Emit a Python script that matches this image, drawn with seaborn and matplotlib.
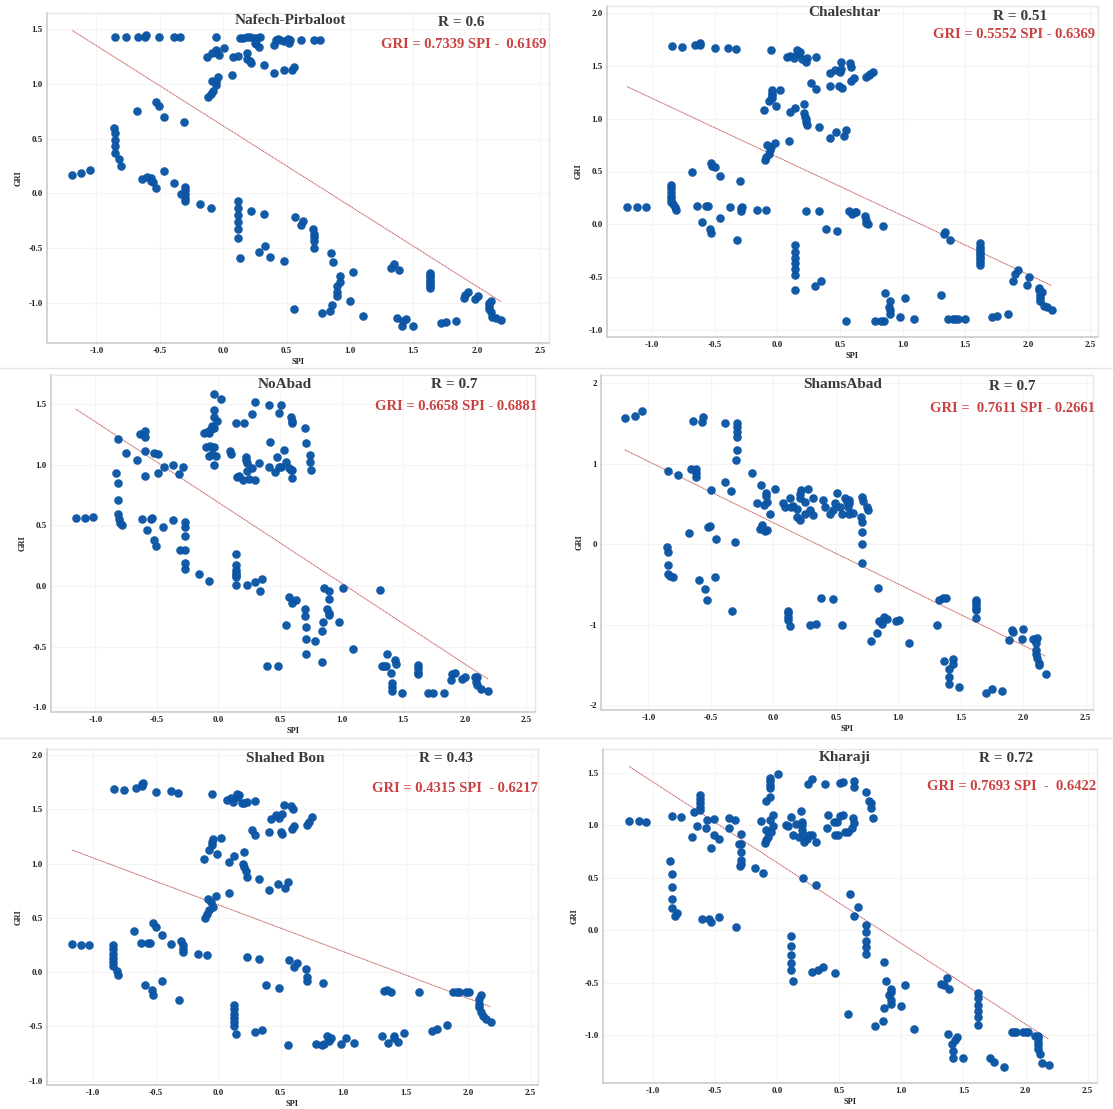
import numpy as np
import pandas as pd
import matplotlib
matplotlib.use("Agg")
import matplotlib.pyplot as plt
from matplotlib.lines import Line2D
from matplotlib.ticker import FormatStrFormatter
import seaborn as sns

# ---------------------------------------------------------------- data
stations = ["Nafech-Pirbaloot", "Chaleshtar", "NoAbad", "ShamsAbad", "Shahed Bon", "Kharaji"]
r_values = ["0.6", "0.51", "0.7", "0.7", "0.43", "0.72"]
slopes = [0.7339, 0.5552, 0.6658, 0.7611, 0.4315, 0.7693]
intercepts = [0.6169, 0.6369, 0.6881, 0.2661, 0.6217, 0.6422]
equations = [
    "GRI = 0.7339 SPI -  0.6169",
    "GRI = 0.5552 SPI - 0.6369",
    "GRI = 0.6658 SPI - 0.6881",
    "GRI =  0.7611 SPI - 0.2661",
    "GRI = 0.4315 SPI  - 0.6217",
    "GRI = 0.7693 SPI  -  0.6422",
]

# (SPI, GRI) pairs per station
nafech_pts = [
    (-0.85, 1.43), (-0.77, 1.43), (-0.67, 1.43), (-0.62, 1.43), (-0.61, 1.45), (-0.51, 1.43), (-0.39, 1.43),
    (-0.34, 1.43), (-0.06, 1.43),
    (-0.13, 1.25), (-0.09, 1.28), (-0.06, 1.31), (-0.05, 1.28), (-0.03, 1.27), (0.01, 1.33),
    (-0.04, 1.06), (-0.06, 1.02), (-0.09, 1.03), (-0.06, 0.99), (-0.08, 0.94), (-0.10, 0.91), (-0.12, 0.88),
    (0.07, 1.08), (0.08, 1.25), (0.12, 1.26),
    (0.13, 1.42), (0.16, 1.42), (0.19, 1.43), (0.21, 1.43), (0.24, 1.42), (0.27, 1.42), (0.29, 1.43),
    (0.25, 1.38), (0.26, 1.37), (0.28, 1.34),
    (0.19, 1.28), (0.19, 1.23), (0.21, 1.21), (0.22, 1.19),
    (0.32, 1.17), (0.40, 1.10), (0.48, 1.13), (0.54, 1.13), (0.56, 1.16),
    (0.40, 1.36), (0.42, 1.40), (0.43, 1.41), (0.45, 1.40), (0.48, 1.39), (0.51, 1.41), (0.52, 1.38),
    (0.53, 1.40), (0.61, 1.40), (0.72, 1.40), (0.76, 1.40),
    (-0.68, 0.75), (-0.53, 0.84), (-0.51, 0.80), (-0.47, 0.70), (-0.31, 0.65),
    (-0.86, 0.60), (-0.85, 0.55), (-0.85, 0.49), (-0.85, 0.43), (-0.85, 0.37), (-0.82, 0.31), (-0.81, 0.25),
    (-1.19, 0.17), (-1.12, 0.19), (-1.05, 0.21),
    (-0.64, 0.13), (-0.60, 0.15), (-0.57, 0.14), (-0.57, 0.11), (-0.55, 0.10), (-0.53, 0.05), (-0.47, 0.20),
    (-0.39, 0.09),
    (-0.33, -0.01), (-0.30, 0.06), (-0.30, 0.03), (-0.30, -0.01), (-0.30, -0.04), (-0.30, -0.07),
    (-0.18, -0.10), (-0.10, -0.13),
    (0.12, -0.07), (0.12, -0.13), (0.12, -0.20), (0.12, -0.26), (0.12, -0.33), (0.12, -0.41), (0.13, -0.59),
    (0.22, -0.16), (0.32, -0.19),
    (0.33, -0.48), (0.28, -0.54), (0.37, -0.58), (0.48, -0.62),
    (0.57, -0.22), (0.63, -0.25), (0.61, -0.29),
    (0.71, -0.33), (0.72, -0.37), (0.72, -0.40), (0.72, -0.44), (0.72, -0.50),
    (0.85, -0.55), (0.87, -0.63),
    (0.92, -0.76), (0.92, -0.81), (0.90, -0.85), (0.90, -0.90), (0.90, -0.94),
    (1.02, -0.72), (1.00, -0.99), (0.86, -1.02), (0.84, -1.08), (0.78, -1.10), (0.56, -1.06), (1.10, -1.12),
    (1.32, -0.68), (1.35, -0.65), (1.39, -0.70),
    (1.37, -1.14), (1.42, -1.17), (1.44, -1.15), (1.41, -1.21), (1.50, -1.21),
    (1.63, -0.73), (1.63, -0.75), (1.63, -0.77), (1.63, -0.79), (1.63, -0.81), (1.63, -0.83), (1.63, -0.85),
    (1.63, -0.87),
    (1.72, -1.19), (1.76, -1.18), (1.84, -1.17),
    (1.90, -0.96), (1.93, -0.90), (1.91, -0.93), (1.99, -0.97), (2.01, -0.94),
    (2.10, -1.00), (2.11, -0.99), (2.10, -1.03), (2.10, -1.06), (2.11, -1.09), (2.12, -1.13), (2.15, -1.14),
    (2.19, -1.16),
]

chaleshtar_pts = [
    (-0.84, 1.69), (-0.76, 1.68), (-0.66, 1.70), (-0.62, 1.72), (-0.62, 1.70), (-0.50, 1.67), (-0.39, 1.67),
    (-0.33, 1.66), (-0.05, 1.65),
    (0.08, 1.58), (0.10, 1.59), (0.13, 1.57), (0.16, 1.61), (0.16, 1.645), (0.18, 1.63), (0.20, 1.56),
    (0.23, 1.54), (0.24, 1.57), (0.31, 1.58),
    (0.27, 1.34), (0.31, 1.28), (0.42, 1.31),
    (0.42, 1.43), (0.46, 1.46), (0.50, 1.44), (0.51, 1.47), (0.49, 1.31), (0.52, 1.29), (0.51, 1.535),
    (0.58, 1.525), (0.59, 1.49), (0.59, 1.36), (0.61, 1.38), (0.71, 1.39), (0.73, 1.41), (0.74, 1.42),
    (0.76, 1.44),
    (-0.11, 1.08), (-0.07, 1.17), (-0.05, 1.19), (-0.04, 1.27), (-0.04, 1.245), (-0.04, 1.22), (-0.04, 1.20),
    (-0.01, 1.12), (0.02, 1.27),
    (0.10, 1.06), (0.14, 1.10), (0.21, 1.14), (0.21, 1.05), (0.22, 1.02), (0.23, 1.00), (0.23, 0.97),
    (0.24, 0.94), (0.33, 0.92), (0.42, 0.82), (0.47, 0.87), (0.53, 0.84), (0.55, 0.89),
    (-0.08, 0.75), (-0.10, 0.61), (-0.09, 0.64), (-0.07, 0.67), (-0.06, 0.70), (-0.05, 0.73), (-0.02, 0.77),
    (0.09, 0.79),
    (-0.68, 0.50), (-0.53, 0.58), (-0.52, 0.55), (-0.50, 0.54), (-0.46, 0.46), (-0.30, 0.41),
    (-0.85, 0.37), (-0.85, 0.34), (-0.85, 0.31), (-0.85, 0.27), (-0.85, 0.24), (-0.85, 0.21), (-0.83, 0.19),
    (-0.82, 0.16), (-0.81, 0.14),
    (-1.20, 0.16), (-1.12, 0.16), (-1.05, 0.16),
    (-0.64, 0.17), (-0.57, 0.17), (-0.55, 0.17), (-0.38, 0.16), (-0.29, 0.15), (-0.28, 0.16), (-0.29, 0.13),
    (-0.16, 0.14), (-0.09, 0.14), (0.23, 0.13), (0.33, 0.13),
    (-0.60, 0.02), (-0.54, -0.04), (-0.53, -0.08), (-0.46, 0.06), (-0.32, -0.15),
    (0.39, -0.04), (0.48, -0.06),
    (0.14, -0.20), (0.14, -0.26), (0.14, -0.32), (0.14, -0.37), (0.14, -0.42), (0.14, -0.48), (0.14, -0.62),
    (0.30, -0.58), (0.35, -0.54),
    (0.57, 0.13), (0.60, 0.10), (0.62, 0.12), (0.63, 0.12), (0.70, 0.08), (0.71, 0.04), (0.71, 0.01),
    (0.72, 0.00), (0.84, -0.02),
    (1.33, -0.09), (1.34, -0.07), (1.38, -0.15),
    (1.62, -0.18), (1.62, -0.21), (1.62, -0.23), (1.62, -0.26), (1.62, -0.28), (1.62, -0.31), (1.62, -0.33),
    (1.62, -0.36), (1.62, -0.38),
    (1.92, -0.43), (1.90, -0.47), (1.88, -0.54), (2.01, -0.50), (1.99, -0.57),
    (2.09, -0.60), (2.09, -0.62), (2.11, -0.64), (2.10, -0.67), (2.10, -0.70), (2.10, -0.73), (2.13, -0.77),
    (2.15, -0.78), (2.19, -0.81),
    (0.86, -0.65), (0.90, -0.73), (0.89, -0.78), (0.90, -0.81), (0.90, -0.85), (0.78, -0.91), (0.83, -0.91),
    (0.85, -0.91), (0.98, -0.88), (1.02, -0.70), (1.09, -0.90),
    (0.55, -0.91),
    (1.31, -0.67), (1.36, -0.90), (1.40, -0.90), (1.42, -0.90), (1.44, -0.90), (1.50, -0.90),
    (1.71, -0.88), (1.75, -0.87), (1.84, -0.85),
]

noabad_pts = [
    (-1.16, 0.56), (-1.08, 0.56), (-1.02, 0.57),
    (-0.83, 0.93), (-0.82, 0.85), (-0.82, 0.71), (-0.82, 0.59), (-0.81, 0.55), (-0.80, 0.52), (-0.78, 0.50),
    (-0.82, 1.21), (-0.75, 1.10), (-0.66, 1.04), (-0.64, 1.25), (-0.60, 1.28), (-0.60, 1.23), (-0.60, 1.11),
    (-0.60, 0.91), (-0.52, 1.10), (-0.49, 1.09), (-0.49, 0.93), (-0.44, 0.98), (-0.37, 1.00), (-0.32, 0.92),
    (-0.29, 0.98),
    (-0.62, 0.55), (-0.58, 0.46), (-0.55, 0.55), (-0.54, 0.56), (-0.52, 0.38), (-0.51, 0.33), (-0.45, 0.49),
    (-0.37, 0.54), (-0.31, 0.30),
    (-0.27, 0.53), (-0.27, 0.49), (-0.27, 0.41), (-0.27, 0.30), (-0.27, 0.19), (-0.27, 0.14),
    (-0.16, 0.10), (-0.08, 0.04),
    (-0.04, 1.585), (0.02, 1.54), (-0.04, 1.45), (-0.04, 1.39), (-0.01, 1.36), (-0.05, 1.32), (-0.07, 1.29),
    (-0.09, 1.27), (-0.12, 1.26), (-0.08, 1.26), (-0.04, 1.30),
    (-0.10, 1.15), (-0.07, 1.155), (-0.04, 1.15), (-0.08, 1.07), (-0.05, 1.09), (-0.02, 1.075), (-0.04, 1.00),
    (0.09, 1.11), (0.10, 1.09), (0.14, 1.34), (0.21, 1.34), (0.15, 0.90), (0.17, 0.91), (0.195, 0.87),
    (0.22, 1.04), (0.23, 1.01), (0.22, 1.06), (0.23, 0.95), (0.25, 0.88), (0.27, 0.97), (0.27, 1.42),
    (0.30, 0.87), (0.30, 1.52), (0.33, 1.01), (0.41, 1.49), (0.415, 1.185), (0.41, 0.98),
    (0.51, 1.49), (0.495, 1.43), (0.59, 1.39), (0.60, 1.36), (0.60, 1.34), (0.705, 1.30), (0.71, 1.18),
    (0.74, 1.08), (0.74, 1.02), (0.75, 0.96),
    (0.53, 1.12), (0.475, 1.06), (0.455, 0.94), (0.495, 0.98), (0.51, 0.98), (0.55, 1.025), (0.575, 0.97),
    (0.585, 0.96), (0.60, 0.96), (0.60, 0.89),
    (0.14, 0.26), (0.14, 0.17), (0.14, 0.13), (0.14, 0.11), (0.14, 0.09), (0.14, 0.07), (0.14, 0.01),
    (0.23, 0.01), (0.30, 0.03), (0.35, 0.06), (0.335, -0.04),
    (0.39, -0.66), (0.48, -0.66),
    (0.57, -0.09), (0.55, -0.325), (0.595, -0.14), (0.63, -0.12), (0.70, -0.19), (0.70, -0.25), (0.71, -0.34),
    (0.71, -0.44), (0.71, -0.56), (0.78, -0.455), (0.84, -0.37), (0.85, -0.30), (0.86, -0.02), (0.90, -0.04),
    (0.90, -0.11), (0.885, -0.19), (0.895, -0.22), (0.90, -0.24), (0.84, -0.63), (0.98, -0.30), (1.01, -0.02),
    (1.09, -0.52),
    (1.31, -0.03), (1.37, -0.565), (1.36, -0.66), (1.34, -0.66), (1.33, -0.66), (1.40, -0.72), (1.41, -0.80),
    (1.41, -0.835), (1.41, -0.87), (1.43, -0.61), (1.44, -0.64), (1.49, -0.88),
    (1.62, -0.65), (1.62, -0.68), (1.62, -0.71), (1.62, -0.73),
    (1.70, -0.885), (1.74, -0.885), (1.83, -0.885),
    (1.89, -0.775), (1.90, -0.73), (1.92, -0.72), (1.98, -0.77), (2.00, -0.75),
    (2.08, -0.75), (2.10, -0.75), (2.09, -0.79), (2.10, -0.82), (2.13, -0.85), (2.19, -0.87),
]

shamsabad_pts = [
    (-1.19, 1.57), (-1.11, 1.59), (-1.05, 1.655),
    (-0.64, 1.53), (-0.57, 1.52), (-0.56, 1.58), (-0.39, 1.51), (-0.29, 1.51), (-0.29, 1.46), (-0.29, 1.39),
    (-0.29, 1.33), (-0.29, 1.17), (-0.30, 1.04),
    (-0.84, 0.91), (-0.76, 0.86), (-0.66, 0.93), (-0.62, 0.93), (-0.62, 0.88), (-0.62, 0.83), (-0.50, 0.67),
    (-0.39, 0.77), (-0.34, 0.66),
    (-0.17, 0.88), (-0.10, 0.73), (-0.06, 0.64), (-0.06, 0.60), (-0.05, 0.525), (-0.075, 0.48), (-0.03, 0.37),
    (0.01, 0.69),
    (-0.13, 0.51), (-0.09, 0.24), (-0.11, 0.19), (-0.07, 0.16), (-0.05, 0.18),
    (0.075, 0.51), (0.09, 0.46), (0.13, 0.57), (0.14, 0.46), (0.16, 0.47), (0.19, 0.43), (0.19, 0.34),
    (0.21, 0.30), (0.21, 0.62), (0.21, 0.57), (0.22, 0.67), (0.25, 0.525), (0.25, 0.38), (0.28, 0.69),
    (0.29, 0.42), (0.32, 0.36), (0.32, 0.57), (0.40, 0.55), (0.415, 0.455),
    (0.45, 0.38), (0.48, 0.42), (0.51, 0.64), (0.49, 0.51), (0.53, 0.455), (0.55, 0.37), (0.57, 0.57),
    (0.59, 0.525), (0.61, 0.55), (0.61, 0.505), (0.60, 0.46), (0.61, 0.38), (0.64, 0.39), (0.71, 0.58),
    (0.72, 0.54), (0.75, 0.46), (0.76, 0.42), (0.70, 0.34), (0.71, 0.28), (0.71, 0.15), (0.71, 0.00),
    (0.71, -0.23),
    (-0.85, -0.03), (-0.84, -0.10), (-0.84, -0.26), (-0.84, -0.37), (-0.83, -0.40), (-0.80, -0.405),
    (-0.675, 0.14), (-0.52, 0.215), (-0.51, 0.23), (-0.46, 0.06), (-0.305, 0.03), (-0.595, -0.45),
    (-0.545, -0.56), (-0.53, -0.70), (-0.47, -0.405), (-0.33, -0.83),
    (0.12, -0.83), (0.12, -0.86), (0.12, -0.90), (0.12, -0.94), (0.13, -1.02), (0.29, -1.01), (0.34, -0.99),
    (0.38, -0.67),
    (0.48, -0.68), (0.55, -1.01),
    (0.84, -0.55), (0.85, -0.95), (0.87, -0.99), (0.89, -0.90), (0.91, -0.935), (0.78, -1.20), (0.83, -1.10),
    (0.98, -0.95), (1.01, -0.94), (1.09, -1.23), (1.31, -1.005),
    (1.33, -0.69), (1.36, -0.67), (1.38, -0.67),
    (1.62, -0.69), (1.62, -0.72), (1.62, -0.76), (1.62, -0.79), (1.62, -0.82), (1.62, -0.92),
    (1.37, -1.45), (1.44, -1.43), (1.44, -1.49), (1.41, -1.555), (1.41, -1.65), (1.41, -1.74), (1.49, -1.78),
    (1.705, -1.845), (1.75, -1.80), (1.83, -1.82),
    (1.89, -1.19), (1.91, -1.07), (1.92, -1.09), (1.99, -1.18), (2.00, -1.05),
    (2.08, -1.18), (2.11, -1.17), (2.10, -1.23), (2.10, -1.31), (2.10, -1.36), (2.11, -1.41), (2.125, -1.48),
    (2.13, -1.50), (2.18, -1.61),
]

shahedbon_pts = [
    (-0.83, 1.69), (-0.75, 1.68), (-0.66, 1.70), (-0.61, 1.73), (-0.60, 1.745), (-0.61, 1.715), (-0.50, 1.66),
    (-0.38, 1.67), (-0.32, 1.655), (-0.05, 1.645),
    (0.07, 1.59), (0.10, 1.605), (0.12, 1.57), (0.15, 1.615), (0.15, 1.645), (0.17, 1.63), (0.19, 1.56),
    (0.21, 1.555), (0.23, 1.57), (0.295, 1.58),
    (0.27, 1.31), (0.295, 1.26), (0.41, 1.29), (0.42, 1.41),
    (0.53, 1.54), (0.58, 1.53), (0.60, 1.50), (0.46, 1.45), (0.51, 1.46), (0.49, 1.42), (0.50, 1.29),
    (0.51, 1.27), (0.59, 1.32), (0.61, 1.35), (0.71, 1.36), (0.73, 1.385), (0.75, 1.43),
    (-0.115, 1.04), (-0.07, 1.13), (-0.05, 1.17), (-0.05, 1.20), (-0.04, 1.23), (-0.01, 1.09), (0.02, 1.24),
    (0.09, 1.015), (0.13, 1.07), (0.21, 1.11), (0.20, 1.00), (0.21, 0.97), (0.22, 0.93), (0.23, 0.88),
    (0.33, 0.855), (0.41, 0.76),
    (0.48, 0.81), (0.535, 0.775), (0.555, 0.83),
    (-0.107, 0.50), (-0.088, 0.54), (-0.072, 0.57), (-0.08, 0.67), (-0.054, 0.645), (-0.04, 0.60),
    (-0.019, 0.70), (0.086, 0.73),
    (-0.67, 0.38), (-0.52, 0.455), (-0.50, 0.415), (-0.45, 0.34), (-0.375, 0.26), (-0.62, 0.27),
    (-0.56, 0.265), (-0.545, 0.265), (-0.295, 0.29), (-0.285, 0.25), (-0.285, 0.215), (-0.285, 0.185),
    (-0.16, 0.17), (-0.09, 0.16),
    (-1.17, 0.26), (-1.10, 0.255), (-1.03, 0.255),
    (-0.84, 0.25), (-0.84, 0.21), (-0.84, 0.17), (-0.84, 0.13), (-0.84, 0.09), (-0.84, 0.06), (-0.81, 0.015),
    (-0.80, -0.025),
    (-0.585, -0.12), (-0.53, -0.16), (-0.52, -0.21), (-0.45, -0.08), (-0.315, -0.26),
    (0.23, 0.14), (0.33, 0.12), (0.38, -0.12),
    (0.13, -0.30), (0.13, -0.34), (0.13, -0.385), (0.13, -0.425), (0.13, -0.46), (0.13, -0.50), (0.14, -0.57),
    (0.295, -0.555), (0.35, -0.53),
    (0.57, 0.11), (0.61, 0.05), (0.635, 0.08), (0.70, 0.025), (0.715, -0.04), (0.715, -0.08), (0.84, -0.10),
    (0.49, -0.15),
    (1.33, -0.17), (1.35, -0.165), (1.38, -0.18), (1.61, -0.18), (1.88, -0.18), (1.91, -0.18), (1.93, -0.18),
    (1.985, -0.18), (2.01, -0.18),
    (2.10, -0.215), (2.085, -0.25), (2.09, -0.29), (2.09, -0.32), (2.10, -0.37), (2.12, -0.40), (2.145, -0.43),
    (2.18, -0.46),
    (0.555, -0.67), (0.78, -0.66), (0.83, -0.67), (0.85, -0.66), (0.87, -0.585), (0.89, -0.63), (0.90, -0.61),
    (0.98, -0.66), (1.02, -0.61), (1.09, -0.655),
    (1.31, -0.59), (1.36, -0.65), (1.405, -0.585), (1.41, -0.61), (1.44, -0.64), (1.49, -0.565),
    (1.71, -0.54), (1.75, -0.52), (1.83, -0.49),
]

kharaji_pts = [
    (-1.19, 1.04), (-1.11, 1.04), (-1.05, 1.03),
    (-0.845, 1.09), (-0.77, 1.08), (-0.67, 1.12), (-0.68, 0.89), (-0.64, 0.99), (-0.62, 1.29), (-0.62, 1.245),
    (-0.62, 1.21), (-0.62, 1.175), (-0.62, 1.145), (-0.57, 0.97), (-0.565, 1.05), (-0.53, 0.785), (-0.51, 1.06),
    (-0.51, 0.905), (-0.47, 0.865), (-0.39, 1.065), (-0.39, 0.975), (-0.34, 1.05), (-0.29, 0.91),
    (-0.305, 0.815), (-0.29, 0.815), (-0.29, 0.74), (-0.29, 0.67), (-0.29, 0.63), (-0.295, 0.61),
    (-0.18, 0.59), (-0.11, 0.54),
    (-0.13, 1.04), (-0.10, 0.83), (-0.085, 0.86), (-0.075, 0.89), (-0.085, 1.23), (-0.06, 1.27), (-0.06, 1.38),
    (-0.06, 1.415), (-0.06, 1.445), (-0.06, 1.35), (-0.06, 1.05), (-0.05, 0.93), (-0.035, 0.99), (-0.03, 1.10),
    (0.005, 1.49), (-0.09, 0.95),
    (0.075, 1.00), (0.09, 0.995), (0.115, 1.08), (0.13, 0.905), (0.155, 1.005), (0.19, 1.135), (0.20, 1.03),
    (0.20, 1.00), (0.20, 0.955), (0.21, 0.905), (0.22, 0.84), (0.18, 0.89), (0.24, 0.865), (0.26, 0.905),
    (0.285, 0.905), (0.31, 0.84), (0.25, 1.39), (0.285, 1.44), (0.39, 1.39), (0.40, 0.975), (0.41, 1.10),
    (0.46, 1.03), (0.47, 0.905),
    (0.51, 1.40), (0.53, 1.41), (0.62, 1.415), (0.62, 1.365), (0.72, 1.31), (0.74, 1.23), (0.76, 1.21),
    (0.76, 1.165), (0.77, 1.065), (0.505, 1.085), (0.53, 1.10), (0.48, 1.03), (0.61, 1.065), (0.62, 1.02),
    (0.60, 0.97), (0.57, 0.93), (0.545, 0.93), (0.49, 0.905),
    (-0.86, 0.66), (-0.845, 0.53), (-0.845, 0.41), (-0.845, 0.30), (-0.845, 0.21), (-0.82, 0.13),
    (-0.805, 0.16),
    (-0.60, 0.105), (-0.55, 0.105), (-0.53, 0.075), (-0.47, 0.12), (-0.33, 0.03),
    (0.21, 0.50), (0.31, 0.43), (0.59, 0.34), (0.65, 0.22), (0.62, 0.13),
    (0.11, -0.06), (0.11, -0.15), (0.11, -0.24), (0.11, -0.315), (0.11, -0.38), (0.125, -0.49), (0.28, -0.40),
    (0.33, -0.38), (0.37, -0.35), (0.47, -0.41), (0.57, -0.80),
    (0.72, 0.05), (0.72, -0.02), (0.72, -0.10), (0.72, -0.165), (0.72, -0.23),
    (0.86, -0.30), (0.88, -0.49), (0.92, -0.56), (0.92, -0.59), (0.90, -0.62), (0.915, -0.67), (0.915, -0.70),
    (0.86, -0.745), (0.85, -0.865), (0.79, -0.91), (1.00, -0.72), (1.03, -0.52), (1.10, -0.945),
    (1.32, -0.51), (1.345, -0.525), (1.365, -0.455), (1.385, -0.56),
    (1.38, -0.99), (1.43, -1.05), (1.445, -1.02), (1.41, -1.09), (1.42, -1.15), (1.42, -1.22), (1.50, -1.22),
    (1.62, -0.60), (1.62, -0.65), (1.62, -0.71), (1.62, -0.77), (1.62, -0.825), (1.62, -0.905),
    (1.715, -1.22), (1.75, -1.26), (1.83, -1.30),
    (1.89, -0.975), (1.91, -0.97), (1.92, -0.97), (1.98, -0.975), (2.00, -0.975), (2.02, -0.975),
    (2.08, -1.005), (2.10, -1.005), (2.10, -1.03), (2.10, -1.065), (2.10, -1.095), (2.10, -1.13), (2.115, -1.18),
    (2.135, -1.265), (2.185, -1.285),
]

station_points = [nafech_pts, chaleshtar_pts, noabad_pts, shamsabad_pts, shahedbon_pts, kharaji_pts]

# ---------------------------------------------------------------- layout (pixels)
W, H = 1113, 1109
boxes = [(47, 549, 13, 343), (607, 1098, 6, 337), (51, 535, 375, 712),
         (601, 1093, 375, 710), (47, 538, 749, 1085), (603, 1097, 749, 1083)]
xlims = [(-1.39, 2.57), (-1.36, 2.56), (-1.36, 2.57), (-1.38, 2.56), (-1.37, 2.56), (-1.40, 2.575)]
ylims = [(-1.37, 1.65), (-1.066, 2.066), (-1.04, 1.74), (-2.06, 2.10), (-1.04, 2.057), (-1.457, 1.724)]
yticks = [
    [-1.0, -0.5, 0.0, 0.5, 1.0, 1.5],
    [-1.0, -0.5, 0.0, 0.5, 1.0, 1.5, 2.0],
    [-1.0, -0.5, 0.0, 0.5, 1.0, 1.5],
    [-2, -1, 0, 1, 2],
    [-1.0, -0.5, 0.0, 0.5, 1.0, 1.5, 2.0],
    [-1.0, -0.5, 0.0, 0.5, 1.0, 1.5],
]
xticks = [-1.0, -0.5, 0.0, 0.5, 1.0, 1.5, 2.0, 2.5]
title_xy = [(290, 20), (844, 13), (285, 385), (843, 385), (285, 758), (845, 758)]
r_xy = [(461, 22), (1020, 16), (454, 385), (1012, 387), (446, 759), (1006, 758)]
eq_xy = [(464, 45), (1014, 35), (456, 407), (1012, 409), (455, 788), (1012, 787)]

sns.set_theme(style="white")
plt.rcParams["font.family"] = ["Liberation Serif", "DejaVu Serif"]
plt.rcParams["axes.unicode_minus"] = False

POINT = "#0b55a4"
FIT = "#c0504d"
TEXT = "#3a3a3a"
EQ = "#c94141"

fig = plt.figure(figsize=(W / 100, H / 100), dpi=100)
fig.patch.set_facecolor("white")

for i, pts in enumerate(station_points):
    l, r, t, b = boxes[i]
    ax = fig.add_axes([l / W, 1 - b / H, (r - l) / W, (b - t) / H])
    df = pd.DataFrame(pts, columns=["SPI", "GRI"])

    ax.grid(True, color="#f4f4f4", linewidth=0.8)
    ax.set_axisbelow(True)

    sns.scatterplot(data=df, x="SPI", y="GRI", ax=ax, color=POINT, s=38,
                    linewidth=0, alpha=0.97, zorder=3)

    xs = np.array([df["SPI"].min(), df["SPI"].max()])
    fit = pd.DataFrame({"SPI": xs, "GRI": intercepts[i] - slopes[i] * xs})
    sns.lineplot(data=fit, x="SPI", y="GRI", ax=ax, color=FIT, linewidth=0.7,
                 linestyle=(0, (1.2, 0.6)), zorder=2)

    ax.set_xlim(*xlims[i])
    ax.set_ylim(*ylims[i])
    ax.set_xticks(xticks)
    ax.set_yticks(yticks[i])
    ax.xaxis.set_major_formatter(FormatStrFormatter("%.1f"))
    ax.yaxis.set_major_formatter(FormatStrFormatter("%d" if i == 3 else "%.1f"))
    ax.tick_params(axis="both", length=0, pad=3, labelsize=6.5, labelcolor="#222222")
    for lab in ax.get_xticklabels() + ax.get_yticklabels():
        lab.set_fontweight("bold")

    ax.set_xlabel("SPI", fontsize=6, fontweight="bold", color="#222222", labelpad=2)
    ax.set_ylabel("GRI", fontsize=6, fontweight="bold", color="#222222", labelpad=4)

    for side in ["top", "right"]:
        ax.spines[side].set_color("#e6e6e6")
        ax.spines[side].set_linewidth(1.0)
    for side in ["left", "bottom"]:
        ax.spines[side].set_color("#d2d2d2")
        ax.spines[side].set_linewidth(1.4)

    tx, ty = title_xy[i]
    fig.text(tx / W, 1 - ty / H, stations[i], ha="center", va="center",
             fontsize=11, fontweight="bold", color=TEXT)
    rx, ry = r_xy[i]
    fig.text(rx / W, 1 - ry / H, f"R = {r_values[i]}", ha="center", va="center",
             fontsize=11, fontweight="bold", color=TEXT)
    ex, ey = eq_xy[i]
    fig.text(ex / W, 1 - ey / H, equations[i], ha="center", va="center",
             fontsize=10.5, fontweight="bold", color=EQ)

# light separators between the rows of panels
for yy in (368, 738):
    fig.add_artist(Line2D([0, 1], [1 - yy / H, 1 - yy / H], color="#e4e4e4", linewidth=1.0))

fig.savefig("out.png", dpi=100, facecolor="white")
